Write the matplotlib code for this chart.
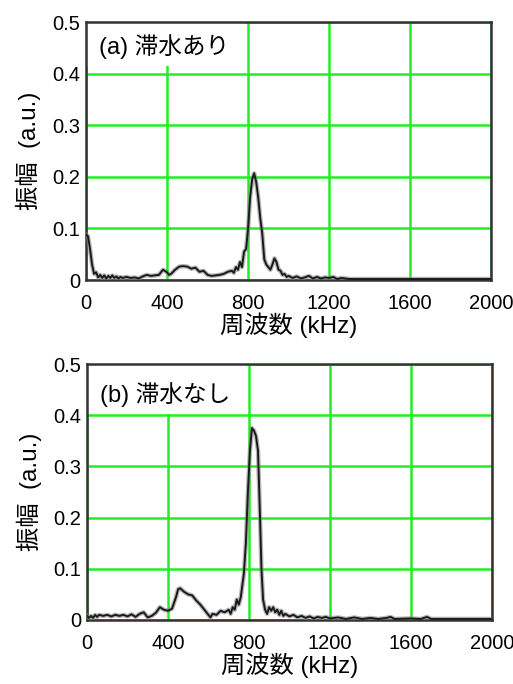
import matplotlib.pyplot as plt
from matplotlib.patches import Rectangle

plt.rcParams['font.family'] = ['Liberation Sans', 'Noto Sans CJK JP']

# (a) 滞水あり
freq_a = [0, 10, 20, 30, 40, 50, 60, 70, 80, 90, 100, 110, 120, 130, 140, 150, 160, 170, 180,
          200, 220, 240, 260, 280, 300, 320, 340, 360, 380, 400, 410, 420, 440, 460, 480, 500,
          520, 540, 560, 580, 600, 620, 640, 660, 680, 700, 720, 730, 740, 750, 760, 770, 780,
          790, 800, 810, 820, 830, 840, 850, 860, 870, 880, 890, 900, 910, 920, 930, 940, 950,
          960, 970, 980, 990, 1000, 1020, 1040, 1060, 1080, 1100, 1120, 1140, 1160, 1180, 1200,
          1220, 1240, 1260, 1280, 1300, 1400, 1600, 1800, 2000]
amp_a = [0.088, 0.085, 0.06, 0.03, 0.012, 0.015, 0.005, 0.01, 0.004, 0.009, 0.003, 0.008, 0.004,
         0.009, 0.004, 0.007, 0.003, 0.006, 0.004, 0.006, 0.004, 0.005, 0.003, 0.007, 0.01, 0.008,
         0.009, 0.01, 0.02, 0.015, 0.01, 0.012, 0.02, 0.026, 0.027, 0.026, 0.022, 0.024, 0.016,
         0.018, 0.01, 0.008, 0.009, 0.01, 0.012, 0.016, 0.018, 0.014, 0.025, 0.02, 0.035, 0.025,
         0.055, 0.06, 0.1, 0.16, 0.195, 0.207, 0.19, 0.16, 0.12, 0.09, 0.04, 0.03, 0.025, 0.02,
         0.03, 0.042, 0.035, 0.02, 0.018, 0.01, 0.012, 0.006, 0.008, 0.004, 0.007, 0.003, 0.005,
         0.008, 0.003, 0.006, 0.003, 0.005, 0.004, 0.006, 0.002, 0.004, 0.003, 0.002, 0.002,
         0.002, 0.002, 0.002]

# (b) 滞水なし
freq_b = [0, 10, 20, 30, 40, 50, 60, 80, 100, 120, 140, 160, 180, 200, 220, 240, 260, 280, 290,
          300, 320, 340, 360, 380, 400, 420, 440, 450, 460, 480, 500, 520, 540, 560, 580, 600,
          610, 620, 640, 660, 680, 700, 710, 720, 730, 740, 750, 760, 775, 785, 795, 805, 815,
          825, 835, 845, 855, 862, 870, 880, 890, 900, 910, 920, 930, 940, 950, 960, 970, 980,
          1000, 1020, 1040, 1060, 1080, 1100, 1120, 1140, 1160, 1180, 1200, 1240, 1280, 1320,
          1360, 1400, 1440, 1480, 1500, 1520, 1600, 1650, 1680, 1700, 2000]
amp_b = [0.008, 0.004, 0.008, 0.004, 0.01, 0.006, 0.01, 0.008, 0.01, 0.007, 0.01, 0.008, 0.01,
         0.007, 0.011, 0.006, 0.012, 0.015, 0.01, 0.005, 0.008, 0.014, 0.025, 0.02, 0.018, 0.022,
         0.045, 0.06, 0.062, 0.055, 0.05, 0.048, 0.038, 0.03, 0.02, 0.01, 0.005, 0.012, 0.01,
         0.018, 0.015, 0.02, 0.012, 0.025, 0.02, 0.04, 0.03, 0.045, 0.09, 0.15, 0.25, 0.33,
         0.375, 0.37, 0.36, 0.33, 0.2, 0.1, 0.04, 0.02, 0.012, 0.025, 0.018, 0.025, 0.015, 0.02,
         0.01, 0.018, 0.008, 0.012, 0.007, 0.01, 0.005, 0.008, 0.004, 0.007, 0.003, 0.006, 0.004,
         0.006, 0.003, 0.005, 0.002, 0.005, 0.002, 0.004, 0.002, 0.004, 0.006, 0.002, 0.003,
         0.002, 0.006, 0.002, 0.002]

x_ticks = [0, 400, 800, 1200, 1600, 2000]
y_ticks = [0, 0.1, 0.2, 0.3, 0.4, 0.5]
y_tick_labels = ['0', '0.1', '0.2', '0.3', '0.4', '0.5']

fig = plt.figure(figsize=(5.13, 6.84), dpi=100)
ax_a = fig.add_axes([0.1676, 0.5906, 0.790, 0.377])
ax_b = fig.add_axes([0.1696, 0.0936, 0.789, 0.374])

panels = [
    (ax_a, freq_a, amp_a, '(a) 滞水あり', 0.415, 0.452),
    (ax_b, freq_b, amp_b, '(b) 滞水なし', 0.402, 0.44),
]

for ax, f, a, label, box_y, text_y in panels:
    ax.set_axisbelow(True)
    ax.grid(color='#22ee22', linewidth=1.8)
    ax.add_patch(Rectangle((0, box_y), 785, 0.5 - box_y, facecolor='white',
                           edgecolor='none', zorder=1))
    ax.plot(f, a, color='#888888', linewidth=3.2, alpha=0.6, zorder=3)
    ax.plot(f, a, color='#1a1a1a', linewidth=1.4, zorder=4)
    ax.text(65, text_y, label, fontsize=17, va='center', ha='left', zorder=5)
    ax.set_xlim(0, 2000)
    ax.set_ylim(0, 0.5)
    ax.set_xticks(x_ticks)
    ax.set_yticks(y_ticks)
    ax.set_yticklabels(y_tick_labels)
    ax.tick_params(length=0, labelsize=14.5)
    ax.tick_params(axis='x', pad=10)
    ax.tick_params(axis='y', pad=4)
    for s in ax.spines.values():
        s.set_color('#333333')
        s.set_linewidth(1.8)
    ax.set_xlabel('周波数 (kHz)', fontsize=17.5, labelpad=0)
    ax.set_ylabel('振幅  (a.u.)', fontsize=17.5, labelpad=8)

fig.savefig('out.png', dpi=100)
